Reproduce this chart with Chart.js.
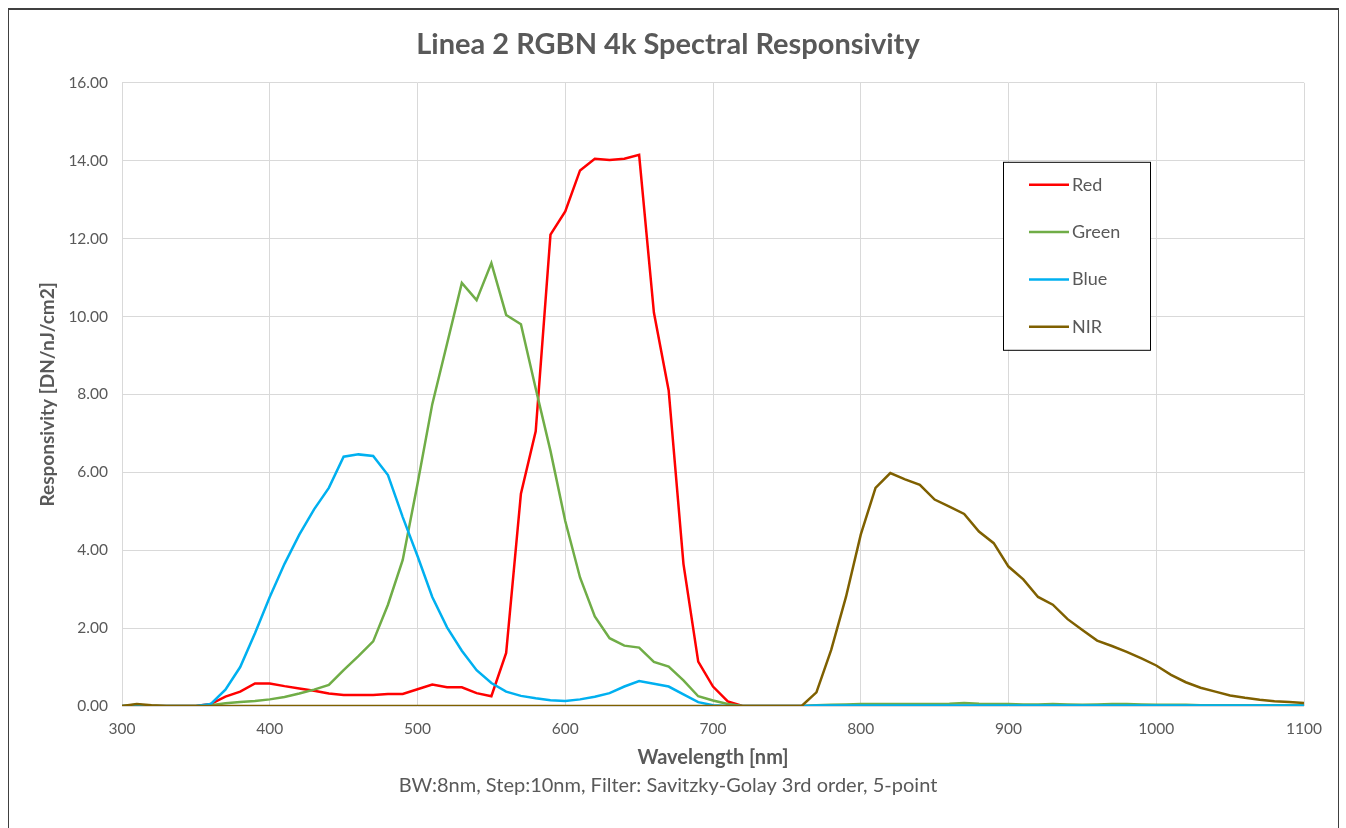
<!DOCTYPE html>
<html>
<head>
<meta charset="utf-8">
<script src="https://cdn.jsdelivr.net/npm/chart.js@4.4.1/dist/chart.umd.min.js"></script>
<style>
  html, body { margin: 0; padding: 0; background: #fff; }
  #wrap { position: relative; width: 1346px; height: 828px; }
  #frame { position: absolute; left: 8px; top: 8px; width: 1329px; height: 840px; border: 1px solid #404040; border-top-width: 2px; pointer-events: none; }
</style>
</head>
<body>
<div id="wrap">
  <canvas id="chart" width="1346" height="828"></canvas>
  <div id="frame"></div>
</div>
<script>
// Wavelength samples [nm]
const wavelengths = [
  300, 310, 320, 330, 340, 350, 360, 370, 380, 390,
  400, 410, 420, 430, 440, 450, 460, 470, 480, 490,
  500, 510, 520, 530, 540, 550, 560, 570, 580, 590,
  600, 610, 620, 630, 640, 650, 660, 670, 680, 690,
  700, 710, 720, 730, 740, 750, 760, 770, 780, 790,
  800, 810, 820, 830, 840, 850, 860, 870, 880, 890,
  900, 910, 920, 930, 940, 950, 960, 970, 980, 990,
  1000, 1010, 1020, 1030, 1040, 1050, 1060, 1070, 1080, 1090,
  1100
];

// Responsivity [DN/nJ/cm2] per channel
const redValues = [
  0, 0, 0, 0, 0, 0, 0.05, 0.24, 0.37, 0.58,
  0.58, 0.51, 0.45, 0.39, 0.32, 0.28, 0.28, 0.28, 0.31, 0.31,
  0.43, 0.55, 0.48, 0.48, 0.33, 0.25, 1.36, 5.45, 7.05, 12.1,
  12.7, 13.75, 14.05, 14.02, 14.05, 14.15, 10.1, 8.1, 3.65, 1.14,
  0.5, 0.12, 0, 0, 0, 0, 0, 0, 0, 0,
  0, 0, 0, 0, 0, 0, 0, 0, 0, 0,
  0, 0, 0, 0, 0, 0, 0, 0, 0, 0,
  0, 0, 0, 0, 0, 0, 0, 0, 0, 0,
  0
];
const greenValues = [
  0, 0.03, 0, 0, 0, 0, 0.02, 0.07, 0.1, 0.13,
  0.17, 0.23, 0.32, 0.42, 0.54, 0.92, 1.28, 1.66, 2.6, 3.75,
  5.7, 7.75, 9.3, 10.86, 10.42, 11.37, 10.04, 9.8, 8.15, 6.55,
  4.75, 3.3, 2.3, 1.74, 1.55, 1.5, 1.13, 1.01, 0.66, 0.25,
  0.14, 0.05, 0, 0, 0, 0, 0, 0.02, 0.03, 0.04,
  0.05, 0.05, 0.05, 0.05, 0.05, 0.05, 0.06, 0.08, 0.06, 0.05,
  0.05, 0.04, 0.04, 0.05, 0.04, 0.03, 0.04, 0.05, 0.05, 0.04,
  0.03, 0.03, 0.03, 0.02, 0.02, 0.02, 0.02, 0.02, 0.02, 0.02,
  0.02
];
const blueValues = [
  0, 0, 0, 0, 0, 0, 0.05, 0.42, 1.0, 1.87,
  2.8, 3.65, 4.4, 5.05, 5.6, 6.4, 6.46, 6.42, 5.93, 4.85,
  3.85, 2.8, 2.02, 1.42, 0.92, 0.59, 0.37, 0.26, 0.2, 0.15,
  0.13, 0.17, 0.24, 0.33, 0.5, 0.64, 0.57, 0.5, 0.3, 0.1,
  0.02, 0, 0, 0, 0, 0, 0, 0.01, 0.01, 0.01,
  0.01, 0.01, 0.01, 0.01, 0.01, 0.01, 0.01, 0.01, 0.01, 0.01,
  0.01, 0.01, 0.01, 0.01, 0.01, 0.01, 0.01, 0.01, 0.01, 0.01,
  0.01, 0.01, 0.01, 0.01, 0.01, 0.01, 0.01, 0.01, 0.01, 0.01,
  0.01
];
const nirValues = [
  0, 0.05, 0.02, 0, 0, 0, 0, 0, 0, 0,
  0, 0, 0, 0, 0, 0, 0, 0, 0, 0,
  0, 0, 0, 0, 0, 0, 0, 0, 0, 0,
  0, 0, 0, 0, 0, 0, 0, 0, 0, 0,
  0, 0, 0, 0, 0, 0, 0, 0.35, 1.44, 2.8,
  4.4, 5.6, 5.98, 5.82, 5.68, 5.3, 5.12, 4.93, 4.48, 4.18,
  3.58, 3.25, 2.8, 2.6, 2.23, 1.95, 1.68, 1.54, 1.39, 1.22,
  1.04, 0.8, 0.61, 0.47, 0.37, 0.27, 0.21, 0.16, 0.12, 0.1,
  0.08
];

const seriesNames = ['Red', 'Green', 'Blue', 'NIR'];
const seriesColors = ['#ff0000', '#70ad47', '#00b0f0', '#7f6000'];
const seriesValues = [redValues, greenValues, blueValues, nirValues];

const textColor = '#595959';
const gridColor = '#d9d9d9';
const fontFamily = "'Lato', 'Noto Sans', sans-serif";

function toPoints(values) {
  return wavelengths.map((w, i) => ({ x: w, y: values[i] }));
}

// Boxed legend inside the plot, like the Excel one
const boxLegend = {
  id: 'boxLegend',
  afterDraw(chart) {
    const ctx = chart.ctx;
    const area = chart.chartArea;
    const x0 = area.right - 301;
    const y0 = area.top + 79;
    const w = 147, h = 188;
    ctx.save();
    ctx.fillStyle = '#ffffff';
    ctx.fillRect(x0, y0, w, h);
    ctx.strokeStyle = '#000000';
    ctx.lineWidth = 1;
    ctx.strokeRect(x0 + 0.5, y0 + 0.5, w, h);
    ctx.font = '18px ' + fontFamily;
    ctx.textBaseline = 'middle';
    ctx.fillStyle = textColor;
    seriesNames.forEach((name, i) => {
      const y = y0 + 23 + i * 47.3;
      ctx.strokeStyle = seriesColors[i];
      ctx.lineWidth = 2.5;
      ctx.beginPath();
      ctx.moveTo(x0 + 26, y);
      ctx.lineTo(x0 + 66, y);
      ctx.stroke();
      ctx.fillText(name, x0 + 69, y);
    });
    ctx.restore();
  }
};

new Chart(document.getElementById('chart'), {
  type: 'line',
  data: {
    datasets: seriesNames.map((name, i) => ({
      label: name,
      data: toPoints(seriesValues[i]),
      borderColor: seriesColors[i],
      backgroundColor: seriesColors[i],
      borderWidth: 2.5,
      pointRadius: 0,
      tension: 0,
      order: seriesNames.length - i
    }))
  },
  options: {
    responsive: false,
    animation: false,
    devicePixelRatio: 1,
    layout: { padding: { left: 32, right: 42, top: 0, bottom: 30 } },
    plugins: {
      legend: { display: false },
      tooltip: { enabled: false },
      title: {
        display: true,
        text: 'Linea 2 RGBN 4k Spectral Responsivity',
        color: textColor,
        font: { family: fontFamily, size: 29, weight: 'bold' },
        padding: { top: 27, bottom: 21 }
      },
      subtitle: {
        display: true,
        position: 'bottom',
        text: 'BW:8nm, Step:10nm, Filter: Savitzky-Golay 3rd order, 5-point',
        color: textColor,
        font: { family: fontFamily, size: 20 },
        padding: { top: 0, bottom: 0 }
      }
    },
    scales: {
      x: {
        type: 'linear',
        min: 300,
        max: 1100,
        ticks: {
          stepSize: 100,
          color: textColor,
          padding: 14,
          font: { family: fontFamily, size: 15.5 },
          callback: v => String(v)
        },
        grid: { color: gridColor, drawTicks: false },
        border: { display: false },
        title: {
          display: true,
          text: 'Wavelength [nm]',
          color: textColor,
          font: { family: fontFamily, size: 20, weight: 'bold' },
          padding: { top: 0, bottom: 4 }
        },
        afterFit(scale) { scale.height = 68; }
      },
      y: {
        min: 0,
        max: 16,
        ticks: {
          stepSize: 2,
          color: textColor,
          padding: 14,
          font: { family: fontFamily, size: 15.5 },
          callback: v => v.toFixed(2)
        },
        grid: { color: gridColor, drawTicks: false },
        border: { display: false },
        title: {
          display: true,
          text: 'Responsivity [DN/nJ/cm2]',
          color: textColor,
          font: { family: fontFamily, size: 19, weight: 'bold' },
          padding: { top: 4, bottom: 4 }
        },
        afterFit(scale) { scale.width = 90; }
      }
    }
  },
  plugins: [boxLegend]
});
</script>
</body>
</html>
